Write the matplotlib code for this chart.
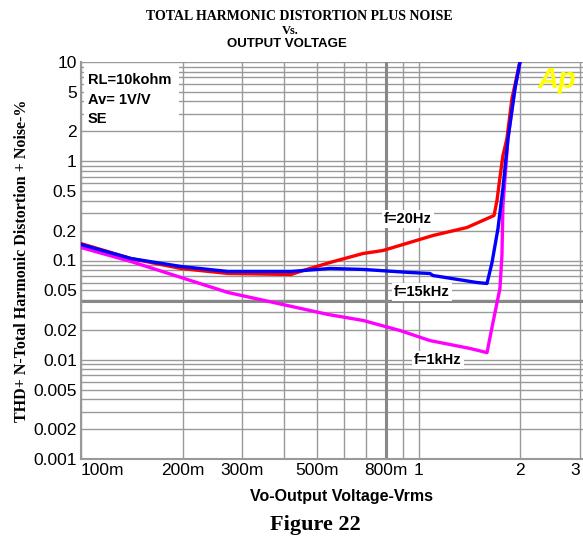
import numpy as np
import matplotlib
matplotlib.use("Agg")
from matplotlib import pyplot as plt
from matplotlib.patches import Rectangle

# f=20Hz (red)
v_20hz = [0.1, 0.1406, 0.198, 0.2726, 0.419, 0.4455, 0.5466, 0.6843, 0.7845,
          1.103, 1.391, 1.673, 1.707, 1.742, 1.778, 1.827, 1.891, 1.997]
thd_20hz = [0.148, 0.1047, 0.083, 0.074, 0.0723, 0.0775, 0.0955, 0.1176, 0.1261,
            0.1786, 0.2149, 0.284, 0.40, 0.685, 1.14, 1.69, 4.28, 10.0]

# f=15kHz (blue)
v_15khz = [0.1, 0.1406, 0.198, 0.2726, 0.419, 0.5466, 0.6843, 0.943, 1.0809,
           1.103, 1.489, 1.595, 1.650, 1.719, 1.778, 1.840, 1.930, 1.997]
thd_15khz = [0.145, 0.1047, 0.087, 0.0775, 0.0775, 0.0831, 0.0813, 0.0757, 0.074,
             0.0706, 0.060, 0.0587, 0.095, 0.21, 0.531, 1.69, 5.4, 10.0]

# f=1kHz (magenta)
v_1khz = [0.1, 0.1406, 0.198, 0.2726, 0.3834, 0.4455, 0.539, 0.6843, 0.881,
          1.081, 1.42, 1.595, 1.661, 1.742, 1.766, 1.778, 1.815, 1.840, 1.930, 1.997]
thd_1khz = [0.1352, 0.0977, 0.0674, 0.0476, 0.0369, 0.033, 0.0286, 0.0249, 0.0197,
            0.0156, 0.013, 0.0118, 0.0237, 0.0522, 0.1123, 0.358, 0.905, 1.69, 5.4, 10.0]

y_ticks = [0.001, 0.002, 0.005, 0.01, 0.02, 0.05, 0.1, 0.2, 0.5, 1, 2, 5, 10]
y_labels = ["0.001", "0.002", "0.005", "0.01", "0.02", "0.05", "0.1", "0.2",
            "0.5", "1", "2", "5", "10"]
x_ticks = [0.1, 0.2, 0.3, 0.5, 0.8, 1, 2, 3]
x_labels = ["100m", "200m", "300m", "500m", "800m", "1", "2", "3"]

W, H = 583, 545
fig = plt.figure(figsize=(W / 100, H / 100), dpi=100)
ax = fig.add_axes([81 / W, 1 - 459 / H, 502 / W, 397 / H])

grid_c = "#999999"
# grid at every 1..9 multiple
ygrid = [m * 10.0 ** e for e in range(-3, 1) for m in range(1, 10)] + [10]
xgrid = [m * 0.1 for m in range(1, 10)] + [1, 2, 3]
for yv in ygrid:
    ax.axhline(yv, color=grid_c, lw=1, zorder=1)
for xv in xgrid:
    ax.axvline(xv, color=grid_c, lw=1, zorder=1)
# cursor lines
ax.axhline(0.039, color="#888888", lw=2.2, zorder=1)
ax.axvline(0.8, color="#888888", lw=2.2, zorder=1)

ax.plot(v_1khz, thd_1khz, color="#ff00ff", lw=2.4, zorder=3)
ax.plot(v_20hz, thd_20hz, color="#ff0000", lw=2.4, zorder=3)
ax.plot(v_15khz, thd_15khz, color="#0000ff", lw=2.4, zorder=3)

ax.set_xscale("log")
ax.set_yscale("log")
ax.set_xlim(0.1, 3.07)
ax.set_ylim(0.001, 10)
ax.minorticks_off()
ax.set_yticks(y_ticks)
ax.set_yticklabels(y_labels)
ax.set_xticks(x_ticks)
ax.set_xticklabels(x_labels)
ax.tick_params(length=0, labelsize=12.5, pad=3)
for lab in ax.get_xticklabels() + ax.get_yticklabels():
    lab.set_fontfamily(["Liberation Sans Narrow", "Liberation Sans"])
ax.get_xticklabels()[0].set_horizontalalignment("left")
ax.get_xticklabels()[-1].set_horizontalalignment("right")

for s in ["top", "right"]:
    ax.spines[s].set_visible(False)
for s in ["left", "bottom"]:
    ax.spines[s].set_color(grid_c)
    ax.spines[s].set_linewidth(1.5)

# condition box
ax.add_patch(Rectangle((0.006, 0.834), 0.19, 0.161, transform=ax.transAxes,
                       facecolor="white", edgecolor="none", zorder=2))
cond_font = dict(fontsize=10.5, fontweight="bold", family="Liberation Sans",
                 transform=ax.transAxes, zorder=4, va="center", ha="left")
ax.text(0.014, 0.955, "RL=10kohm", **cond_font)
ax.text(0.014, 0.905, "Av= 1V/V", **cond_font)
ax.text(0.014, 0.857, "SE", **cond_font)

ax.text(0.948, 0.9345, "Ap", color="#ffff00", fontsize=21, fontweight="bold",
        fontstyle="italic", family="Liberation Sans", transform=ax.transAxes,
        ha="center", va="baseline", zorder=4)

lab_font = dict(fontsize=10.5, fontweight="bold", family="Liberation Sans",
                transform=ax.transAxes, ha="center", va="center", zorder=4,
                bbox=dict(facecolor="white", edgecolor="none", pad=1.5))
ax.text(0.651, 0.6045, "f=20Hz", **lab_font)
ax.text(0.679, 0.4207, "f=15kHz", **lab_font)
ax.text(0.711, 0.249, "f=1kHz", **lab_font)

fig.text(299 / W, 1 - 17 / H, "TOTAL HARMONIC DISTORTION PLUS NOISE",
         family="Liberation Serif", fontweight="bold", fontsize=10,
         ha="center", va="center")
fig.text(290 / W, 1 - 31.5 / H, "Vs.", family="Liberation Serif",
         fontweight="bold", fontsize=9, ha="center", va="center")
fig.text(287 / W, 1 - 44 / H, "OUTPUT VOLTAGE",
         family=["Liberation Sans Narrow", "Liberation Sans"],
         fontweight="bold", fontsize=9.5, ha="center", va="center")
fig.text(22 / W, 1 - 261 / H, "THD+ N-Total Harmonic Distortion + Noise-%",
         family="Liberation Serif", fontweight="bold", fontsize=11.5,
         rotation=90, ha="center", va="center")
fig.text(342 / W, 1 - 497 / H, "Vo-Output Voltage-Vrms",
         family="Liberation Sans", fontweight="bold", fontsize=11.5,
         ha="center", va="center")
fig.text(315 / W, 1 - 525 / H, "Figure 22", family="Liberation Serif",
         fontweight="bold", fontsize=16, ha="center", va="center")

fig.savefig("out.png", dpi=100)
